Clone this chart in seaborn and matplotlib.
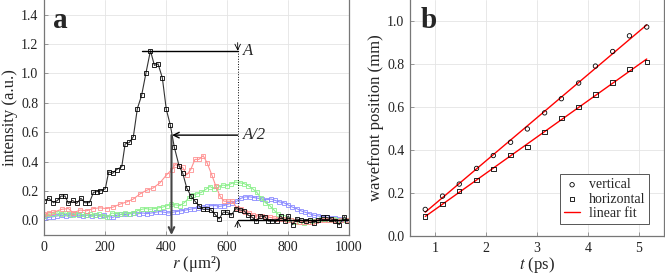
import numpy as np
import pandas as pd
import matplotlib
matplotlib.use("Agg")
import matplotlib.pyplot as plt
import seaborn as sns

# panel a: radial intensity profiles
black_r = [0, 16, 31, 44, 56, 69, 80, 94, 107, 121, 134, 149, 162, 173, 184, 201, 212, 225, 238, 255,
           266, 280, 293, 306, 320, 334, 349, 362, 374, 388, 401, 414, 427, 443, 455, 468, 482, 495, 508, 522,
           533, 548, 561, 574, 588, 601, 614, 629, 643, 656, 670, 683, 696, 709, 724, 736, 749, 763, 776, 790,
           801, 815, 828, 843, 858, 872, 885, 899, 914, 927, 941, 955, 968, 985, 995]
black_i = [0.13, 0.15, 0.12, 0.135, 0.165, 0.165, 0.115, 0.135, 0.115, 0.15, 0.12, 0.12, 0.19, 0.195, 0.20, 0.215, 0.33, 0.32, 0.345, 0.365,
           0.52, 0.53, 0.57, 0.76, 0.85, 1.0, 1.155, 1.055, 1.065, 0.97, 0.755, 0.65, 0.50, 0.37, 0.32, 0.22, 0.165, 0.13, 0.10, 0.075,
           0.075, 0.07, 0.04, 0.01, 0.055, 0.055, 0.035, 0.08, 0.07, 0.065, 0.035, 0.02, -0.005, 0.03, 0.025, -0.005, -0.005, -0.005, 0.03, -0.005,
           0.03, -0.03, 0.01, 0.0, -0.005, 0.0, -0.015, 0.0, 0.02, 0.02, 0.01, -0.005, -0.03, 0.025, -0.005]

red_r = [0, 16, 31, 58, 80, 96, 118, 140, 162, 184, 205, 227, 249, 271, 293, 315, 337, 358, 380, 402,
         419, 430, 443, 455, 468, 481, 495, 508, 522, 535, 550, 563, 577, 590, 604, 618, 632, 645, 659, 673,
         686, 700, 714, 728, 741, 755, 768, 782, 796, 810, 823, 837, 850, 864, 878, 891, 905, 918, 932, 946,
         960, 973, 992]
red_i = [0.04, 0.05, 0.055, 0.075, 0.08, 0.05, 0.07, 0.065, 0.08, 0.085, 0.08, 0.09, 0.11, 0.125, 0.145, 0.18, 0.205, 0.22, 0.255, 0.31,
         0.345, 0.38, 0.37, 0.36, 0.31, 0.345, 0.415, 0.415, 0.44, 0.39, 0.31, 0.235, 0.165, 0.13, 0.13, 0.13, 0.085, 0.075, 0.055, 0.05,
         0.035, 0.03, 0.03, 0.025, 0.02, 0.015, 0.01, 0.01, 0.005, 0.0, -0.005, -0.01, -0.01, -0.01, -0.01, -0.005, 0.0, 0.005, 0.005, 0.0,
         -0.005, 0.0, 0.0]

green_r = [0, 16, 31, 44, 56, 69, 83, 96, 110, 124, 138, 152, 166, 180, 194, 208, 222, 236, 250, 264,
           278, 292, 306, 320, 334, 348, 362, 376, 390, 404, 418, 432, 446, 460, 474, 488, 502, 516, 530, 544,
           558, 572, 586, 600, 614, 628, 642, 656, 670, 684, 698, 712, 726, 740, 754, 768, 782, 796, 810, 824,
           838, 852, 866, 880, 894, 908, 922, 936, 950, 964, 978, 992]
green_i = [0.03, 0.04, 0.045, 0.05, 0.04, 0.05, 0.04, 0.035, 0.045, 0.04, 0.035, 0.04, 0.035, 0.04, 0.03, 0.02, 0.05, 0.045, 0.04, 0.05,
           0.045, 0.05, 0.065, 0.075, 0.08, 0.075, 0.08, 0.085, 0.09, 0.10, 0.11, 0.105, 0.10, 0.12, 0.15, 0.17, 0.18, 0.19, 0.21, 0.23,
           0.215, 0.225, 0.24, 0.235, 0.25, 0.26, 0.255, 0.25, 0.235, 0.215, 0.19, 0.15, 0.12, 0.10, 0.07, 0.04, 0.02, 0.01, 0.0, -0.01,
           -0.01, -0.015, -0.01, -0.005, 0.0, 0.01, 0.01, 0.005, 0.01, 0.005, 0.0, 0.0]

blue_r = [0, 16, 31, 44, 58, 72, 86, 100, 114, 128, 142, 156, 170, 184, 198, 212, 226, 240, 254, 268,
          282, 296, 310, 324, 338, 352, 366, 380, 394, 408, 422, 436, 450, 464, 478, 492, 506, 520, 534, 548,
          562, 576, 590, 604, 618, 632, 646, 660, 674, 688, 702, 716, 730, 744, 758, 772, 786, 800, 814, 828,
          842, 856, 870, 884, 898, 912, 926, 940, 954, 968, 982, 996]
blue_i = [0.015, 0.02, 0.025, 0.03, 0.035, 0.03, 0.035, 0.04, 0.035, 0.03, 0.035, 0.03, 0.035, 0.03, 0.035, 0.025, 0.02, 0.035, 0.04, 0.04,
          0.045, 0.05, 0.045, 0.05, 0.045, 0.05, 0.055, 0.06, 0.055, 0.05, 0.055, 0.06, 0.065, 0.07, 0.075, 0.08, 0.085, 0.09, 0.095, 0.10,
          0.10, 0.095, 0.10, 0.11, 0.12, 0.13, 0.15, 0.16, 0.16, 0.155, 0.15, 0.145, 0.14, 0.145, 0.135, 0.125, 0.12, 0.105, 0.09, 0.08,
          0.065, 0.055, 0.045, 0.035, 0.03, 0.025, 0.02, 0.015, 0.015, 0.01, 0.005, 0.0]

# panel b: wavefront position vs time
t_ps = [0.80, 1.14, 1.47, 1.81, 2.14, 2.48, 2.81, 3.15, 3.48, 3.82, 4.15, 4.49, 4.82, 5.16]
vertical = [0.124, 0.186, 0.242, 0.315, 0.375, 0.437, 0.499, 0.574, 0.640, 0.713, 0.792, 0.860, 0.933, 0.974]
horizontal = [0.090, 0.149, 0.209, 0.260, 0.312, 0.377, 0.416, 0.485, 0.550, 0.601, 0.660, 0.715, 0.777, 0.811]

sns.set_style("whitegrid")
plt.rcParams["font.family"] = ["Liberation Serif", "DejaVu Serif"]
plt.rcParams["mathtext.fontset"] = "stix"

fig = plt.figure(figsize=(6.65, 2.75), dpi=100)
ax1 = fig.add_axes([44 / 665, 1 - 235 / 275, 305 / 665, 235 / 275])
ax2 = fig.add_axes([410 / 665, 1 - 236 / 275, 254 / 665, 236 / 275])

def style_axes(ax):
    ax.grid(True, color="#e4e4e4", lw=0.6)
    for side in ["left", "bottom", "right"]:
        ax.spines[side].set_color("#777777")
        ax.spines[side].set_linewidth(0.9)
    ax.spines["top"].set_visible(False)
    ax.tick_params(direction="in", length=3, width=0.6, color="#888888", labelsize=10, pad=4,
                   labelcolor="#222222", left=True, bottom=True)

# colored profiles first, black on top
for rr, ii, col in [(blue_r, blue_i, "#8c8cff"), (green_r, green_i, "#8ef08e"), (red_r, red_i, "#ff9090")]:
    sns.lineplot(x=rr, y=ii, ax=ax1, color=col, lw=0.8, marker="s", markersize=2.6,
                 markerfacecolor="none", markeredgecolor=col, markeredgewidth=0.6)
sns.lineplot(x=black_r, y=black_i, ax=ax1, color="#333333", lw=0.8, marker="s", markersize=3,
             markerfacecolor="none", markeredgecolor="black", markeredgewidth=0.6)

ax1.set_xlim(0, 1000)
ax1.set_ylim(-0.1, 1.5)
ax1.set_xticks([0, 200, 400, 600, 800, 1000])
ax1.set_yticks([0.0, 0.2, 0.4, 0.6, 0.8, 1.0, 1.2, 1.4])
ax1.set_yticklabels(["0.0", "0.2", "0.4", "0.6", "0.8", "1.0", "1.2", "1.4"])
ax1.set_xlabel(r"$r$ (μm²)", fontsize=12, labelpad=0)
ax1.set_ylabel("intensity (a.u.)", fontsize=12, labelpad=2)
style_axes(ax1)

# annotations: peak A, half max A/2
ax1.plot([320, 635], [1.155, 1.155], color="black", lw=1)
ax1.annotate("", xy=(635, 1.155), xytext=(635, 1.21),
             arrowprops=dict(arrowstyle="->", lw=0.6, color="black", shrinkA=0, shrinkB=0))
ax1.plot([635, 635], [1.17, 0.08], color="black", lw=0.7, ls=":")
ax1.text(652, 1.155, "A", fontsize=12, style="italic", va="center")
ax1.annotate("", xy=(420, 0.58), xytext=(635, 0.58),
             arrowprops=dict(arrowstyle="->", lw=1, color="black", shrinkA=0, shrinkB=0))
ax1.text(652, 0.58, "A/2", fontsize=12, style="italic", va="center")
ax1.annotate("", xy=(418, -0.1), xytext=(418, 0.58),
             arrowprops=dict(arrowstyle="->", lw=1.5, color="#444444", shrinkA=0, shrinkB=0))
ax1.plot([635, 1000], [0.0, 0.0], color="black", lw=1)
ax1.annotate("", xy=(635, 0.0), xytext=(635, -0.05),
             arrowprops=dict(arrowstyle="->", lw=0.6, color="black", shrinkA=0, shrinkB=0))
ax1.text(0.03, 0.97, "a", transform=ax1.transAxes, fontsize=21, fontweight="bold", va="top", ha="left")

# panel b
sns.regplot(x=t_ps, y=vertical, ax=ax2, scatter=False, ci=None, color="red", line_kws={"lw": 1})
sns.regplot(x=t_ps, y=horizontal, ax=ax2, scatter=False, ci=None, color="red",
            line_kws={"lw": 1}, label="linear fit")
sns.scatterplot(x=t_ps, y=vertical, ax=ax2, marker="o", s=10, facecolor="none", edgecolor="black",
                linewidth=0.6, label="vertical", zorder=3)
sns.scatterplot(x=t_ps, y=horizontal, ax=ax2, marker="s", s=10, facecolor="none", edgecolor="black",
                linewidth=0.6, label="horizontal", zorder=3)

ax2.set_xlim(0.5, 5.5)
ax2.set_ylim(0, 1.1)
ax2.set_xticks([1, 2, 3, 4, 5])
ax2.set_yticks([0.0, 0.2, 0.4, 0.6, 0.8, 1.0])
ax2.set_yticklabels(["0.0", "0.2", "0.4", "0.6", "0.8", "1.0"])
ax2.set_xlabel(r"$t$ (ps)", fontsize=12, labelpad=0)
ax2.set_ylabel("wavefront position (mm)", fontsize=12, labelpad=2)
style_axes(ax2)

h, l = ax2.get_legend_handles_labels()
order = [l.index("vertical"), l.index("horizontal"), l.index("linear fit")]
leg = ax2.legend([h[i] for i in order], [l[i] for i in order], loc="lower right", fontsize=10,
                 fancybox=False, framealpha=1, edgecolor="#555555", handlelength=1.2,
                 borderpad=0.3, labelspacing=0.1, handletextpad=0.6, bbox_to_anchor=(0.97, 0.02))
leg.get_frame().set_linewidth(0.7)
ax2.text(0.04, 0.97, "b", transform=ax2.transAxes, fontsize=21, fontweight="bold", va="top", ha="left")

fig.savefig("out.png", dpi=100)
